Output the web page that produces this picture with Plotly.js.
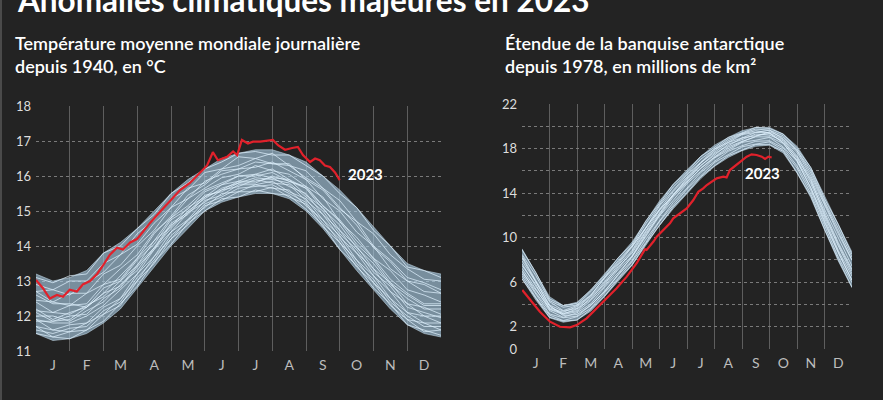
<!DOCTYPE html>
<html><head><meta charset="utf-8">
<script src="https://cdn.plot.ly/plotly-3.0.1.min.js"></script>
<style>html,body{margin:0;padding:0;background:#232323;}#c{width:883px;height:400px;}</style>
</head><body><div id="c"></div>
<script>
// ---------- DATA ----------
const months = ['J','F','M','A','M','J','J','A','S','O','N','D'];
const monthCenters = [0.5,1.5,2.5,3.5,4.5,5.5,6.5,7.5,8.5,9.5,10.5,11.5];
const monthStarts = [0,1,2,3,4,5,6,7,8,9,10,11,12];
// half-month positions (month units)
const xs = [0,0.5,1,1.5,2,2.5,3,3.5,4,4.5,5,5.5,6,6.5,7,7.5,8,8.5,9,9.5,10,10.5,11,11.5,12];

// Left: global daily mean temperature (°C), past years (1940-2022) envelope and sample years
const tempTop = [13.2,13.0,13.1,13.3,13.8,14.1,14.5,15.0,15.5,15.9,16.2,16.5,16.65,16.75,16.75,16.6,16.4,16.0,15.6,15.1,14.55,14.0,13.5,13.3,13.2];
const tempBottom = [11.5,11.3,11.35,11.5,11.8,12.2,12.8,13.4,14.0,14.5,15.0,15.25,15.4,15.5,15.5,15.35,15.0,14.5,13.9,13.3,12.75,12.2,11.75,11.5,11.4];
const tempYears = [
 [13.1,12.95,13.15,13.2,13.8,14.0,14.5,14.9,15.5,15.8,16.2,16.4,16.65,16.7,16.6,16.6,16.3,16.0,15.5,15.1,14.45,14.0,13.4,13.3,13.1],
 [12.9,12.75,13.0,13.0,13.5,13.75,14.35,14.75,15.35,15.6,16.1,16.2,16.55,16.5,16.65,16.3,16.15,15.65,15.3,14.7,14.35,13.75,13.35,13.05,13.0],
 [12.7,12.75,12.6,12.95,13.25,13.75,14.05,14.65,15.1,15.65,15.8,16.2,16.3,16.5,16.35,16.35,15.9,15.6,15.05,14.7,14.0,13.6,13.1,12.95,12.75],
 [12.7,12.4,12.65,12.65,13.2,13.45,14.0,14.45,15.1,15.35,15.85,16.05,16.2,16.25,16.4,16.15,15.9,15.35,15.0,14.4,14.0,13.35,13.0,12.7,12.65],
 [12.45,12.4,12.3,12.65,12.9,13.35,13.75,14.4,14.8,15.35,15.65,15.95,16.05,16.3,16.15,16.05,15.7,15.4,14.7,14.25,13.65,13.3,12.75,12.6,12.4],
 [12.4,12.1,12.3,12.35,12.9,13.05,13.65,14.15,14.8,15.15,15.6,15.8,16.0,16.05,16.2,15.9,15.65,15.15,14.7,14.05,13.6,12.95,12.6,12.3,12.3],
 [12.15,12.1,12.05,12.3,12.55,13.0,13.45,14.15,14.55,15.1,15.4,15.75,15.85,16.05,15.95,15.9,15.45,15.1,14.45,14.0,13.35,12.95,12.35,12.25,12.05],
 [12.1,11.85,12.0,12.05,12.5,12.8,13.4,13.9,14.6,14.9,15.4,15.6,15.85,15.85,15.95,15.7,15.5,14.9,14.45,13.8,13.35,12.7,12.35,12.0,12.0],
 [11.9,11.8,11.8,12.0,12.3,12.75,13.2,13.9,14.4,14.95,15.25,15.6,15.7,15.9,15.8,15.75,15.3,14.9,14.25,13.8,13.15,12.7,12.1,12.0,11.8],
 [11.9,11.6,11.75,11.8,12.25,12.5,13.2,13.7,14.4,14.75,15.3,15.45,15.75,15.75,15.85,15.55,15.35,14.75,14.3,13.6,13.15,12.5,12.1,11.8,11.8],
 [11.7,11.6,11.55,11.8,12.05,12.5,13.0,13.7,14.2,14.75,15.1,15.5,15.55,15.75,15.65,15.6,15.15,14.75,14.1,13.6,12.95,12.5,11.9,11.8,11.6],
 [11.7,11.4,11.55,11.6,12.05,12.3,13.0,13.5,14.2,14.6,15.15,15.3,15.55,15.55,15.68,15.4,15.2,14.55,14.1,13.4,12.95,12.3,11.9,11.55,11.6],
 [11.5,11.4,11.35,11.6,11.85,12.35,12.85,13.55,14.05,14.65,15.0,15.35,15.4,15.6,15.5,15.45,15.05,14.6,13.9,13.45,12.8,12.35,11.75,11.6,11.45],
 [12.6,12.35,12.35,12.25,12.65,12.85,13.45,13.95,14.65,14.95,15.45,15.55,15.8,15.8,16.0,15.85,15.7,15.15,14.75,14.15,13.65,13.05,12.65,12.35,12.35],
 [11.85,11.85,11.9,12.25,12.65,13.15,13.65,14.35,14.85,15.45,15.75,16.15,16.2,16.4,16.35,16.3,15.95,15.65,15.1,14.6,13.95,13.55,13.0,12.9,12.65],
 [12.2,11.9,12.1,12.25,12.8,13.0,13.6,14.05,14.75,15.05,15.55,15.75,16.0,16.0,16.1,15.85,15.65,15.05,14.6,13.95,13.5,12.9,12.5,12.2,12.2],
 [12.0,12.0,11.85,12.15,12.4,12.9,13.3,13.95,14.5,15.0,15.35,15.65,15.8,15.95,15.9,15.8,15.4,15.0,14.35,13.9,13.25,12.85,12.25,12.1,11.95],
 [11.6,11.5,11.65,11.7,12.15,12.4,13.1,13.6,14.3,14.7,15.2,15.4,15.65,15.7,15.75,15.5,15.25,14.65,14.2,13.5,13.05,12.4,12.0,11.7,11.7]
];
const temp2023x = [0,0.2,0.41,0.62,0.8,1.0,1.21,1.39,1.6,1.81,1.99,2.19,2.4,2.58,2.79,2.99,3.08,3.38,3.67,3.97,4.27,4.56,4.86,5.07,5.24,5.39,5.66,5.84,5.96,6.1,6.28,6.43,6.64,6.84,7.02,7.17,7.38,7.59,7.76,7.91,8.12,8.27,8.41,8.56,8.71,8.86,9.0];
const temp2023y = [13.03,12.8,12.5,12.6,12.55,12.75,12.7,12.9,13.0,13.2,13.45,13.75,13.95,13.9,14.1,14.2,14.3,14.66,14.97,15.3,15.6,15.8,16.1,16.3,16.68,16.45,16.55,16.7,16.6,17.03,16.93,16.98,16.98,17.0,17.03,16.88,16.75,16.8,16.83,16.6,16.4,16.5,16.45,16.3,16.26,16.1,15.88];

// Right: Antarctic sea-ice extent (million km²), past years (1978-2022) envelope and sample years
const iceTop = [9.0,6.9,4.7,3.9,4.2,5.3,6.8,8.2,9.6,11.5,13.3,14.8,16.1,17.3,18.3,19.0,19.6,19.9,19.9,19.3,18.2,16.3,13.7,11.2,8.7];
const iceBottom = [6.3,4.4,2.8,2.4,2.6,3.4,4.7,6.1,7.5,9.3,11.1,12.6,14.0,15.3,16.4,17.2,17.8,18.2,18.3,17.6,15.8,13.6,10.7,7.9,5.5];
const iceYears = [
 [8.9,6.9,4.5,3.9,4.1,5.3,6.6,8.2,9.4,11.5,13.1,14.8,15.9,17.3,18.1,19.0,19.4,19.9,19.8,19.3,18.0,16.3,13.5,11.2,8.5],
 [8.5,6.6,4.35,3.75,3.95,5.15,6.45,7.95,9.25,11.25,12.95,14.55,15.75,17.05,17.95,18.85,19.35,19.75,19.65,19.15,17.85,16.05,13.25,10.85,8.25],
 [8.35,6.15,4.25,3.45,3.9,4.85,6.35,7.65,9.15,10.85,12.85,14.25,15.65,16.75,17.95,18.55,19.25,19.45,19.65,18.85,17.65,15.55,12.95,10.35,7.95],
 [7.9,6.05,3.95,3.4,3.65,4.75,6.05,7.55,8.85,10.85,12.55,14.15,15.45,16.75,17.65,18.55,18.95,19.45,19.4,18.8,17.35,15.35,12.55,10.05,7.45],
 [7.65,5.65,3.85,3.15,3.6,4.45,5.95,7.25,8.75,10.55,12.45,13.85,15.35,16.45,17.55,18.25,18.95,19.15,19.35,18.55,17.25,15.05,12.35,9.55,7.15],
 [7.25,5.45,3.55,3.1,3.35,4.35,5.65,7.15,8.35,10.35,12.05,13.65,14.95,16.25,17.25,18.15,18.65,19.05,19.05,18.45,16.95,14.85,11.95,9.25,6.75],
 [7.05,5.05,3.45,2.85,3.25,4.05,5.55,6.85,8.25,10.05,11.95,13.35,14.85,15.95,17.15,17.85,18.55,18.75,19.0,18.15,16.85,14.45,11.75,8.85,6.55],
 [6.75,4.95,3.15,2.8,2.95,3.95,5.15,6.65,7.95,9.85,11.55,13.15,14.45,15.85,16.85,17.75,18.25,18.65,18.7,18.05,16.45,14.25,11.35,8.65,6.15],
 [6.55,4.65,3.05,2.55,2.9,3.65,5.05,6.35,7.85,9.55,11.45,12.85,14.35,15.55,16.75,17.45,18.15,18.4,18.6,17.85,16.25,13.95,11.15,8.25,5.95],
 [6.3,4.55,2.85,2.5,2.6,3.55,4.75,6.25,7.55,9.45,11.15,12.75,14.05,15.45,16.45,17.35,17.85,18.35,18.35,17.75,15.85,13.75,10.75,8.05,5.55],
 [8.2,6.1,3.9,3.0,3.1,3.9,5.2,6.7,8.3,10.2,12.1,13.8,15.3,16.7,17.8,18.7,19.3,19.6,19.4,18.5,16.9,14.5,11.5,8.7,6.2],
 [6.9,5.3,3.7,3.3,3.8,4.8,6.4,7.8,9.2,10.9,12.5,13.8,15.0,16.2,17.2,18.0,18.6,19.1,19.5,19.0,17.8,15.8,13.1,10.5,8.0],
 [7.5,5.8,3.6,3.2,3.45,4.6,5.8,7.4,8.6,10.5,12.2,13.9,15.1,16.5,17.4,18.4,18.8,19.3,19.2,18.7,17.1,15.2,12.1,9.4,7.0]
];
const ice2023x = [0.01,0.29,0.65,1.02,1.38,1.75,1.99,2.35,2.72,3.08,3.44,3.81,4.17,4.47,4.53,4.78,4.9,5.38,5.5,5.99,6.23,6.41,6.59,6.72,7.08,7.32,7.44,7.56,7.93,8.17,8.35,8.53,8.72,8.84,8.96,9.08];
const ice2023y = [5.3,4.4,3.35,2.45,2.0,1.95,2.15,2.75,3.65,4.55,5.45,6.5,7.7,8.95,8.9,9.65,10.08,11.28,11.73,12.63,13.38,14.12,14.42,14.72,15.32,15.47,15.41,16.07,16.82,17.27,17.48,17.42,17.27,17.06,17.27,17.2];

const leftTicks = [11,12,13,14,15,16,17,18];
const rightTicks = [0,2,4,6,8,10,12,14,16,18,20,22];
const rightTickText = ['0','2','','6','','10','','14','','18','','22'];

// ---------- STYLE ----------
const BG = '#232323';
const FONT = 'Lato, "Open Sans", sans-serif';
const LINE = 'rgba(225,242,255,0.9)';
const BAND = 'rgba(172,208,232,0.62)';
const EDGE = 'rgba(205,228,243,0.75)';
const RED = '#e1212b';

const traces = [];
function addPanel(top, bottom, years, rx, ry, xa, ya) {
  traces.push({x: xs, y: bottom, xaxis: xa, yaxis: ya, mode: 'lines', line: {width: 0, color: BAND}, hoverinfo: 'skip', showlegend: false});
  traces.push({x: xs, y: top, xaxis: xa, yaxis: ya, mode: 'lines', fill: 'tonexty', fillcolor: BAND, line: {width: 0.7, color: EDGE}, hoverinfo: 'skip', showlegend: false});
  traces.push({x: xs, y: bottom, xaxis: xa, yaxis: ya, mode: 'lines', line: {width: 0.7, color: EDGE}, hoverinfo: 'skip', showlegend: false});
  years.forEach(v => traces.push({x: xs, y: v, xaxis: xa, yaxis: ya, mode: 'lines', line: {width: 0.8, color: LINE}, hoverinfo: 'skip', showlegend: false}));
  traces.push({x: rx, y: ry, xaxis: xa, yaxis: ya, mode: 'lines', line: {width: 2.2, color: RED}, hoverinfo: 'skip', showlegend: false});
}
addPanel(tempTop, tempBottom, tempYears, temp2023x, temp2023y, 'x', 'y');
addPanel(iceTop, iceBottom, iceYears, ice2023x, ice2023y, 'x2', 'y2');

function xAxis(domain) {
  return {domain: domain, range: [0, 12], tickmode: 'array', tickvals: monthCenters, ticktext: months,
    showgrid: false, zeroline: false, showline: false, ticks: '', fixedrange: true, ticklabelstandoff: 4,
    tickfont: {family: FONT, size: 14, color: '#bdbdbd'},
    minor: {tickmode: 'array', tickvals: monthStarts, showgrid: true, gridcolor: '#5e5e5e', gridwidth: 1, ticks: ''}};
}
function yAxis(domain, range, tv, tt) {
  const a = {domain: domain, range: range, tickmode: 'array', tickvals: tv, showgrid: true, gridcolor: '#7a7a7a', griddash: 'dot', gridwidth: 1,
    zeroline: false, showline: false, ticks: '', fixedrange: true, ticklabelstandoff: 4,
    tickfont: {family: FONT, size: 13, color: '#dddddd'}};
  if (tt) a.ticktext = tt;
  return a;
}

const W = 883, H = 400;
const SUB = {family: FONT, size: 18, color: '#ffffff', weight: 600};
const layout = {
  width: W, height: H, margin: {l: 0, r: 0, t: 0, b: 0},
  paper_bgcolor: BG, plot_bgcolor: BG, showlegend: false,
  xaxis: xAxis([36/W, 441/W]),
  yaxis: yAxis([(H-351)/H, (H-106)/H], [11, 18], leftTicks),
  xaxis2: Object.assign(xAxis([522/W, 852/W]), {anchor: 'y2'}),
  yaxis2: Object.assign(yAxis([(H-349)/H, (H-104)/H], [0, 22], rightTicks, rightTickText), {anchor: 'x2'}),
  annotations: [
    {text: 'Anomalies climatiques majeures en 2023', xref: 'paper', yref: 'paper', x: 15/W, y: 1.0, xanchor: 'left', yanchor: 'middle', showarrow: false,
     font: {family: FONT, size: 31.5, color: '#ffffff', weight: 'bold'}},
    {text: 'Température moyenne mondiale journalière<br>depuis 1940, en °C', xref: 'paper', yref: 'paper', x: 13/W, y: (H-54)/H, xanchor: 'left', yanchor: 'middle', align: 'left', showarrow: false, font: SUB},
    {text: 'Étendue de la banquise antarctique<br>depuis 1978, en millions de km²', xref: 'paper', yref: 'paper', x: 503/W, y: (H-54)/H, xanchor: 'left', yanchor: 'middle', align: 'left', showarrow: false, font: SUB},
    {text: '2023', xref: 'x', yref: 'y', x: temp2023x[temp2023x.length-1], y: temp2023y[temp2023y.length-1], xanchor: 'left', yanchor: 'middle',
     xshift: 6, yshift: 6, showarrow: false, font: {family: FONT, size: 15, color: '#ffffff', weight: 'bold'}},
    {text: '2023', xref: 'x2', yref: 'y2', x: ice2023x[ice2023x.length-1], y: ice2023y[ice2023y.length-1], xanchor: 'center', yanchor: 'middle',
     xshift: -9, yshift: -16, showarrow: false, font: {family: FONT, size: 15, color: '#ffffff', weight: 'bold'}}
  ],
  shapes: [
    {type: 'line', xref: 'paper', yref: 'paper', x0: 1/W, x1: 1/W, y0: 0, y1: 1, line: {color: '#4a4a4a', width: 2}}
  ]
};
Plotly.newPlot('c', traces, layout, {staticPlot: true, displayModeBar: false});
</script></body></html>
